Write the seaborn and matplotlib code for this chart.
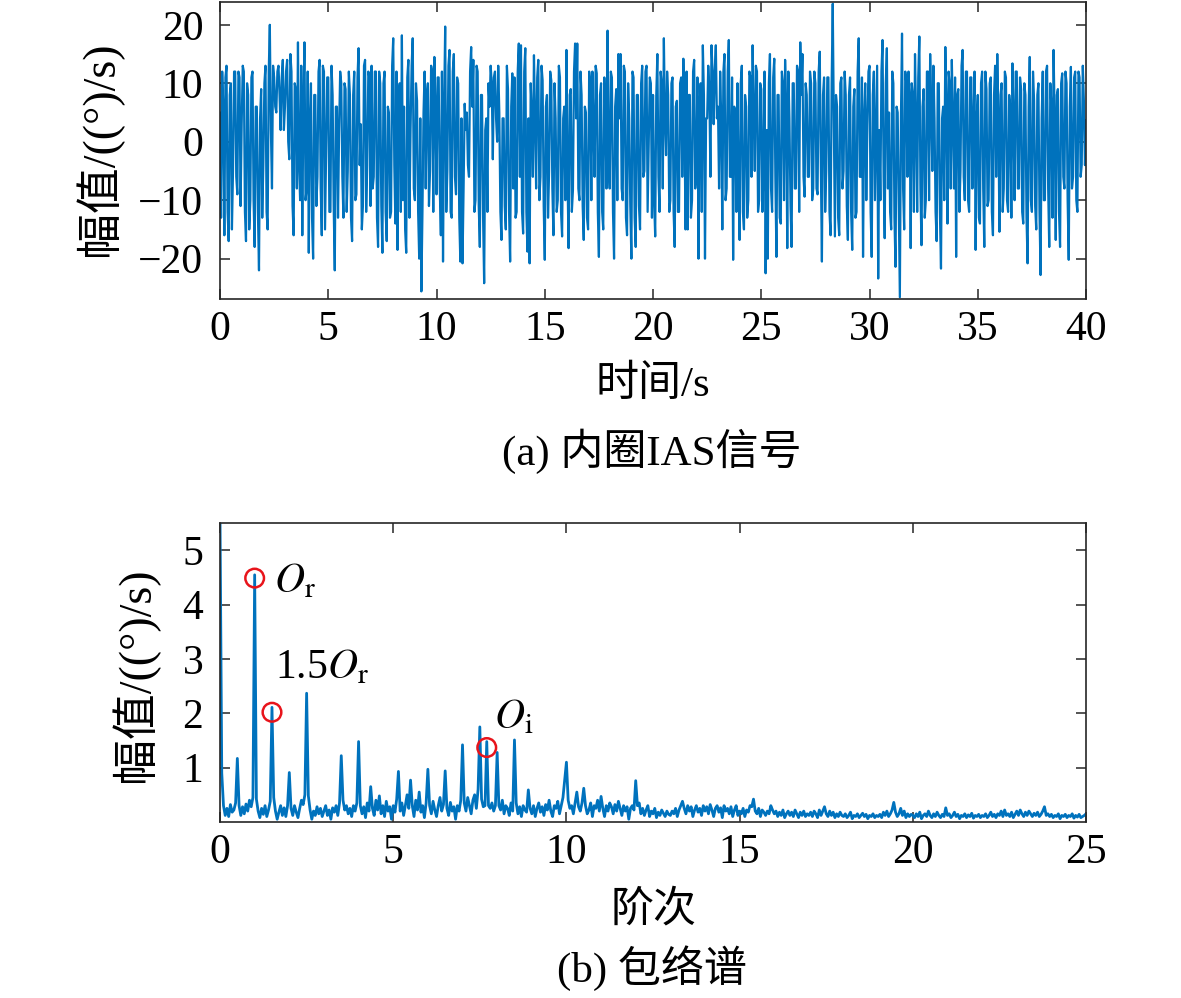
import numpy as np
import pandas as pd
import matplotlib
matplotlib.use("Agg")
import matplotlib.pyplot as plt
import seaborn as sns

# (a) 内圈IAS信号, one value every 0.05 s (20 per row = 1 s)
dt = 0.05
ias_signal = [
    5, -13, 12, 6, -16, 11, 13, -12, -17, 8, 10, -15, -5, 12, 12, -6, -9, 12, 11, -11,
    3, 13, 12, -12, -17, 10, 8, -15, -10, 11, 12, -10, -18, 6, 6, -12, -22, 4, 9, -13,
    -4, 10, 13, -12, -15, 12, 20, 2, -8, 13, 11, 6, 5, 12, 13, 8, 2, 11, 14, 2,
    6, 12, 14, 0, -3, 15, 12, -11, -16, 10, 9, -8, 17, -4, -10, 13, -16, 6, 17, -10,
    -8, 12, -19, 4, 10, -13, -20, 8, 8, -11, -6, 12, 14, -8, -16, 13, 12, -15, -2, 11,
    11, -12, -12, 13, 8, -11, -22, 6, 6, -13, 2, 12, 10, -6, -13, 10, 9, -12, -5, 12,
    8, -13, -17, 8, 12, -10, -9, 11, 16, -4, 3, -15, -11, 13, 14, -12, -4, 12, 11, -11,
    13, -8, -6, 12, 12, -13, -18, 12, 10, -11, -19, 10, 12, -12, -17, 6, 5, -13, -12, 13,
    17.7, -4, -14, 12, -18.5, 8, 10, -12, 18.2, -10, 6, -15, -19, 11, 14, -13, 2, 13, 17.7, -8,
    -10, 10, 7, -12, -20, 4, -25.6, -12, 5, 12, -8, 8, 10, -11, -5, 13, 12, -12, 14.5, 6,
    -9, 11, 11, -8, -16, 12, -20.5, 6, 19.7, -12, -5, 13, 15.7, -12, -13, 12, 15, -6, -9, 11,
    10, -13, -20.5, 4, -20.8, -8, 6.5, 2, 5, -4, -6, 12, 16.2, 6, 14, -12, -10, 13, 12, -11,
    -18, 8, 8, -13, -24.2, 2, 4, -12, 10, 6, 13, 10, -3, 11, 12, 4, 0, 13, 5, -12,
    -16.8, 4, 4, -11, -15, 13, 9, -12, -20.5, 6, 11.7, -8, 11, -13, -12, 12, 16.8, -6, 16.5, -12,
    -15.7, 12, 16, -12, -18.8, 4, -20.8, 10, 4.8, -6, 14.8, 4, -8, 11, 14, -10, -6, 13, 10.5, -11,
    -20.2, 6, 8, -13, -5, 12, 10.5, -8, -16, 10, 4, -12, -10, 13, 11, -12, -16.2, 4, 6, -10,
    15.7, -6, -18.2, 8, 9, -12, -8.3, 12, 16.8, 4, 16.8, -8, -10, 12, 8, -11, -16.8, 6, 5, -13,
    -15, 12, 10, -10, 12, 2, -6, 13, 11.7, -12, -19.7, 8, 10, -12, -15, 11, 5, -8, 19, -4,
    -8, 12, 11, -12, -20, 6, 9, -10, 15, 4, 15, -8, -10, 13, 12, -13, -16, 10, 4, -11,
    -20, 12, 11, -13, -18, 8, 8, -11, -15, 10, 13, -6, -5, 12, 13, -12, 0, 11, 10, -13,
    8, -10, -16.2, 8, 15, -6, -12, 12, 10, -8, 17.7, 4, -2.3, 12, 8, -12, -10, 10, 11, -12,
    -18, 6, 7, -12, -12, 10, 11, -6, 14.2, 4, -15, 12, -15, 8, 8, -13, -10, 12, 14, -8,
    -5, 11, -20, 6, 10, -12, 16.5, 8, -20, 4, 4, 13, 9, -6, 16.5, 12, 3, 12, 16.5, 4,
    6, -8, 12, 4, -15, 12, 15, -10, -8, 12, 17.4, -6, -6, 11, -20.2, 6, 5, -12, 10, -8,
    -16.8, 10, 13, -12, -15, 8, 6, -13, -10, 12, 11, -6, 16.5, 4, -5, 13, 12, -12, -10, 10,
    9, -12, -5, 12, -22.5, 2, -20, 10, 15, -8, -12, 11, 14.2, -6, -19.7, 8, 8, -13, -14, 12,
    10, -10, 14, 6, -18.2, 12, 4, -11, -18, 10, 10, -8, -8, 13, 12, -12, 17, 8, 15, -6,
    -9.4, 10, 8, -6, -6, 12, 10, -10, -8, 12, 10, -8, -9, 12, 15.4, -4, -20.5, 8, 11, -12,
    -5, 11, 11, -12, -16, 10, 23.6, 4, -16.2, 8, 6, -13, -16, 10, 11, -8, -5, 12, 8, -11,
    -16.8, 8, 11, -12, -18.5, 6, 9, -13, -12, 12, 17.7, -6, -6, 11, -19.7, 4, 10, -10, 3, 12,
    13, -12, -19.7, 8, 12, -10, 2, 13, -23.4, 2, -10, 12, 17.4, -6, -16.5, 10, 16, -8, 5, -12,
    -15, 12, 10, -13, -21.4, 6, 5, -11, -26.6, 4, 18.5, -8, -15, 12, 10, -6, 12, 8, -18.2, 10,
    8, -12, 15, 4, -12, 11, 18, -8, -17.7, 6, 9, -13, -10, 12, 12, -10, 15, 6, -5, 13,
    4, -12, -17, 10, 10, -12, -21.7, 4, 6, -10, 16.2, 6, -14, 12, 10, -8, 14, 4, -8, 11,
    -19.7, 8, 9, -12, -5, 13, 15.7, -6, -10, 12, 12, -10, -12, 11, 11, -8, 3, 12, -18.5, 4,
    8, -13, -14, 10, 12, -8, -18, 12, 9, -11, -10, 10, 11, -12, -16, 8, 13, -6, 15, 4,
    -15.4, 8, 10, -12, -8, 12, 11, -10, -12, 8, 6, -13, 13.4, 4, -10, 12, 12, -8, -8, 11,
    9, -12, -14, 10, 8, -13, -20.8, 6, 14.5, -10, -12, 12, 7, -11, -15, 8, 10, -12, -22.8, 4,
    12, -10, -10, 12, 13, -8, -18, 10, 6, -13, 15.7, 4, -16.8, 8, 9, -12, -18, 10, 11.7, -6,
    -8, 12, 10, -10, -20.2, 6, 12.8, -8, -6, 11, 12, -10, -12, 12, 11, -6, -4, 13, 7, -4,
    3.7,
]

# (b) 包络谱, one value every 0.05 order (20 per row = 1 order)
order_step = 0.05
envelope = [
    5.6, 0.9, 0.3, 0.12, 0.25, 0.1, 0.32, 0.18, 0.22, 0.35, 1.17, 0.3, 0.12, 0.28, 0.15, 0.33, 0.2, 0.4, 0.28, 0.45,
    4.55, 0.42, 0.2, 0.08, 0.25, 0.14, 0.3, 0.1, 0.22, 0.38, 2.11, 0.45, 0.2, 0.05, 0.18, 0.3, 0.12, 0.26, 0.1, 0.3,
    0.91, 0.25, 0.12, 0.3, 0.18, 0.08, 0.25, 0.4, 0.32, 0.5, 2.37, 0.48, 0.22, 0.05, 0.2, 0.12, 0.28, 0.15, 0.25, 0.1,
    0.2, 0.3, 0.12, 0.22, 0.05, 0.26, 0.18, 0.3, 0.12, 0.35, 1.22, 0.4, 0.22, 0.3, 0.15, 0.25, 0.1, 0.3, 0.2, 0.35,
    1.48, 0.3, 0.15, 0.28, 0.08, 0.35, 0.2, 0.65, 0.25, 0.12, 0.4, 0.22, 0.48, 0.15, 0.3, 0.1, 0.38, 0.2, 0.28, 0.05,
    0.3, 0.18, 0.42, 0.93, 0.2, 0.35, 0.12, 0.3, 0.5, 0.25, 0.77, 0.3, 0.1, 0.4, 0.22, 0.55, 0.18, 0.3, 0.08, 0.35,
    0.97, 0.3, 0.15, 0.38, 0.22, 0.1, 0.3, 0.45, 0.2, 0.32, 0.94, 0.25, 0.12, 0.36, 0.2, 0.28, 0.05, 0.3, 0.2, 0.4,
    1.42, 0.35, 0.2, 0.45, 0.3, 0.15, 0.4, 0.5, 0.25, 0.6, 1.75, 0.42, 0.28, 0.3, 1.48, 0.3, 0.25, 0.35, 0.2, 0.3,
    1.28, 0.3, 0.22, 0.4, 0.15, 0.3, 0.25, 0.12, 0.35, 0.2, 1.51, 0.35, 0.15, 0.28, 0.1, 0.3, 0.22, 0.18, 0.59, 0.25,
    0.15, 0.3, 0.1, 0.25, 0.35, 0.18, 0.28, 0.12, 0.32, 0.22, 0.4, 0.2, 0.1, 0.3, 0.25, 0.38, 0.15, 0.3, 0.45, 0.77,
    1.1, 0.4, 0.25, 0.3, 0.15, 0.35, 0.55, 0.28, 0.2, 0.35, 0.62, 0.3, 0.15, 0.22, 0.35, 0.1, 0.3, 0.25, 0.4, 0.2,
    0.47, 0.25, 0.1, 0.3, 0.2, 0.35, 0.28, 0.15, 0.32, 0.2, 0.38, 0.25, 0.12, 0.3, 0.2, 0.28, 0.05, 0.25, 0.3, 0.22,
    0.76, 0.3, 0.35, 0.15, 0.25, 0.12, 0.22, 0.3, 0.1, 0.2, 0.15, 0.25, 0.08, 0.18, 0.12, 0.22, 0.16, 0.1, 0.2, 0.14,
    0.12, 0.2, 0.15, 0.25, 0.1, 0.22, 0.3, 0.38, 0.25, 0.15, 0.3, 0.2, 0.28, 0.1, 0.22, 0.3, 0.18, 0.25, 0.12, 0.3,
    0.2, 0.28, 0.15, 0.32, 0.22, 0.1, 0.25, 0.3, 0.18, 0.26, 0.08, 0.3, 0.2, 0.25, 0.15, 0.28, 0.1, 0.22, 0.3, 0.12,
    0.2, 0.15, 0.25, 0.1, 0.22, 0.18, 0.3, 0.28, 0.42, 0.2, 0.15, 0.25, 0.1, 0.22, 0.18, 0.12, 0.2, 0.15, 0.3, 0.22,
    0.15, 0.2, 0.1, 0.18, 0.12, 0.22, 0.08, 0.15, 0.2, 0.12, 0.18, 0.1, 0.22, 0.15, 0.08, 0.18, 0.12, 0.2, 0.1, 0.15,
    0.12, 0.18, 0.1, 0.2, 0.15, 0.08, 0.22, 0.12, 0.2, 0.28, 0.15, 0.1, 0.2, 0.12, 0.18, 0.08, 0.15, 0.1, 0.18, 0.12,
    0.1, 0.15, 0.08, 0.12, 0.18, 0.06, 0.12, 0.1, 0.15, 0.08, 0.12, 0.16, 0.1, 0.14, 0.06, 0.12, 0.1, 0.15, 0.08, 0.12,
    0.1, 0.14, 0.08, 0.18, 0.12, 0.2, 0.1, 0.15, 0.22, 0.36, 0.18, 0.1, 0.15, 0.25, 0.12, 0.2, 0.08, 0.15, 0.1, 0.14,
    0.12, 0.08, 0.15, 0.1, 0.18, 0.06, 0.12, 0.15, 0.1, 0.2, 0.12, 0.08, 0.15, 0.1, 0.18, 0.12, 0.08, 0.14, 0.1, 0.26,
    0.12, 0.15, 0.08, 0.12, 0.18, 0.1, 0.14, 0.06, 0.12, 0.1, 0.15, 0.08, 0.13, 0.1, 0.16, 0.07, 0.12, 0.1, 0.14, 0.08,
    0.12, 0.1, 0.15, 0.08, 0.12, 0.18, 0.1, 0.14, 0.08, 0.15, 0.12, 0.2, 0.1, 0.22, 0.12, 0.15, 0.1, 0.18, 0.08, 0.14,
    0.2, 0.12, 0.22, 0.15, 0.1, 0.18, 0.12, 0.2, 0.15, 0.1, 0.16, 0.12, 0.18, 0.1, 0.14, 0.2, 0.28, 0.12, 0.15, 0.1,
    0.14, 0.08, 0.12, 0.1, 0.15, 0.06, 0.12, 0.1, 0.14, 0.08, 0.12, 0.1, 0.15, 0.07, 0.12, 0.09, 0.14, 0.08, 0.1, 0.12,
    0.15,
]

# 标记的特征阶次
mark_orders = [1.0, 1.5, 7.7]
mark_amps = [4.49, 2.02, 1.37]
mark_labels = ["$O_\\mathrm{r}$", "1.5$O_\\mathrm{r}$", "$O_\\mathrm{i}$"]

df_sig = pd.DataFrame({"t": np.arange(len(ias_signal)) * dt, "amp": ias_signal})
df_env = pd.DataFrame({"order": np.arange(len(envelope)) * order_step, "amp": envelope})

sns.set_theme(style="ticks")
plt.rcParams["font.family"] = ["Liberation Serif", "Noto Sans CJK SC"]
plt.rcParams["mathtext.fontset"] = "stix"
plt.rcParams["axes.unicode_minus"] = True
plt.rcParams["text.color"] = "black"

blue = "#0072BD"
edge = "#262626"
fs = 30      # tick labels and annotations
fs_lab = 31  # axis labels and captions
fs_ylab = 33

fig = plt.figure(figsize=(11.81, 9.98), dpi=100)
ax1 = fig.add_axes([0.1863, 0.7004, 0.7333, 0.2976])
ax2 = fig.add_axes([0.1863, 0.1764, 0.7333, 0.2993])

sns.lineplot(data=df_sig, x="t", y="amp", ax=ax1, color=blue, linewidth=1.6, estimator=None)
sns.lineplot(data=df_env, x="order", y="amp", ax=ax2, color=blue, linewidth=2.0, estimator=None)
sns.scatterplot(x=mark_orders, y=mark_amps, ax=ax2, marker="o", s=180,
                facecolors="none", edgecolor="#E8141B", linewidth=1.8, zorder=5)

ax1.set_xlim(0, 40)
ax1.set_ylim(-26.9, 23.9)
ax1.set_xticks(range(0, 41, 5))
ax1.set_yticks([-20, -10, 0, 10, 20])

ax2.set_xlim(0, 25)
ax2.set_ylim(0, 5.5)
ax2.set_xticks(range(0, 26, 5))
ax2.set_yticks([1, 2, 3, 4, 5])

text_pos = [(1.55, 4.22), (1.6, 2.65), (7.9, 1.73)]
for lab, (tx, ty) in zip(mark_labels, text_pos):
    ax2.text(tx, ty, lab, fontsize=fs, ha="left", va="baseline", color="black")

for ax in (ax1, ax2):
    ax.set_xlabel("")
    ax.set_ylabel("")
    for sp in ax.spines.values():
        sp.set_visible(True)
        sp.set_color(edge)
        sp.set_linewidth(1.2)
    ax.tick_params(axis="both", direction="in", top=True, right=True,
                   length=7, width=1.1, color=edge, labelsize=fs, labelcolor="black")
    ax.tick_params(axis="x", pad=8.5)
    ax.tick_params(axis="y", pad=12)
    ax.grid(False)

fig.text(0.0838, 0.8507, "幅值/((°)/s)", rotation=90, ha="center", va="center", fontsize=fs_ylab)
fig.text(0.1143, 0.3236, "幅值/((°)/s)", rotation=90, ha="center", va="center", fontsize=fs_ylab)
fig.text(0.553, 0.6142, "时间/s", ha="center", va="center", fontsize=fs_lab)
fig.text(0.552, 0.548, "(a) 内圈IAS信号", ha="center", va="center", fontsize=fs_lab)
fig.text(0.553, 0.088, "阶次", ha="center", va="center", fontsize=fs_lab)
fig.text(0.552, 0.030, "(b) 包络谱", ha="center", va="center", fontsize=fs_lab)

fig.savefig("out.png", dpi=100, facecolor="white")
